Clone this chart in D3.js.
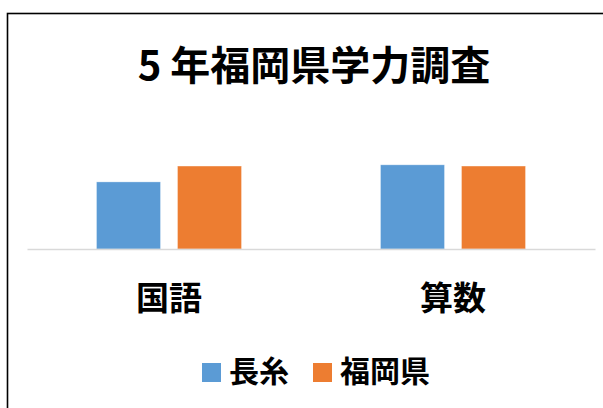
<!DOCTYPE html>
<html>
<head>
<meta charset="utf-8">
<script src="https://cdn.jsdelivr.net/npm/d3@7"></script>
<style>
  body { margin: 0; background: #fff; }
  text { font-family: "Noto Sans CJK JP", sans-serif; font-weight: bold; fill: #000; }
</style>
</head>
<body>
<svg id="chartSvg"></svg>
<script>
const title = '5 年福岡県学力調査'
const categories = ['国語', '算数']
const seriesNames = ['長糸', '福岡県']
const nagaitoValues = [55, 69]
const fukuokaValues = [68, 68]
const seriesColors = ['#5b9bd5', '#ed7d31']

let width = 603
let height = 408

let plot = { left: 27, right: 595, top: 127, bottom: 249 }

const svg = d3.select('#chartSvg')
    .attr('width', width)
    .attr('height', height)

// chart frame (only left/top edges fall inside the window)
svg.append('rect')
    .attr('x', 7.5).attr('y', 13.5)
    .attr('width', 700).attr('height', 500)
    .attr('fill', '#fff')
    .attr('stroke', '#000')
    .attr('stroke-width', 1.6)

svg.append('text')
    .attr('x', 314).attr('y', 80)
    .attr('text-anchor', 'middle')
    .style('font-size', '40px')
    .text(title)

x0 = d3.scaleBand().domain(categories).range([plot.left, plot.right])
x1 = d3.scaleBand().domain(seriesNames).range([0, x0.bandwidth()])
    .paddingInner(0.21).paddingOuter(0.858)
yScale = d3.scaleLinear().domain([0, 100]).range([plot.bottom, plot.top])

rows = categories.map((c, i) => ({
    category: c,
    values: [nagaitoValues[i], fukuokaValues[i]].map((v, j) => ({ series: seriesNames[j], value: v, color: seriesColors[j] }))
}))

groups = svg.selectAll('.group').data(rows)
    .enter().append('g')
    .attr('transform', d => `translate(${x0(d.category)},0)`)

groups.selectAll('rect').data(d => d.values)
    .enter().append('rect')
    .attr('x', d => x1(d.series))
    .attr('y', d => yScale(d.value))
    .attr('width', x1.bandwidth())
    .attr('height', d => yScale(0) - yScale(d.value))
    .attr('fill', d => d.color)
    .attr('stroke', '#fff')
    .attr('stroke-opacity', 0.4)
    .attr('stroke-width', 0.8)

// category axis
xAxis = d3.axisBottom(x0).tickSize(0).tickPadding(38)
ax = svg.append('g')
    .attr('transform', `translate(0,${yScale(0)})`)
    .call(xAxis)
ax.select('.domain').attr('stroke', '#d9d9d9').attr('stroke-width', 1.5)
ax.selectAll('text')
    .style('font-size', '33px')
    .style('font-family', '"Noto Sans CJK JP", sans-serif')
    .style('font-weight', 'bold')
    .attr('fill', '#000')

// legend
legendX = [202, 313]
legend = svg.selectAll('.legend').data(seriesNames)
    .enter().append('g')
    .attr('transform', (d, i) => `translate(${legendX[i]},363)`)
legend.append('rect')
    .attr('width', 19).attr('height', 19)
    .attr('fill', (d, i) => seriesColors[i])
legend.append('text')
    .attr('x', 27).attr('y', 19)
    .style('font-size', '30px')
    .text(d => d)
</script>
</body>
</html>
